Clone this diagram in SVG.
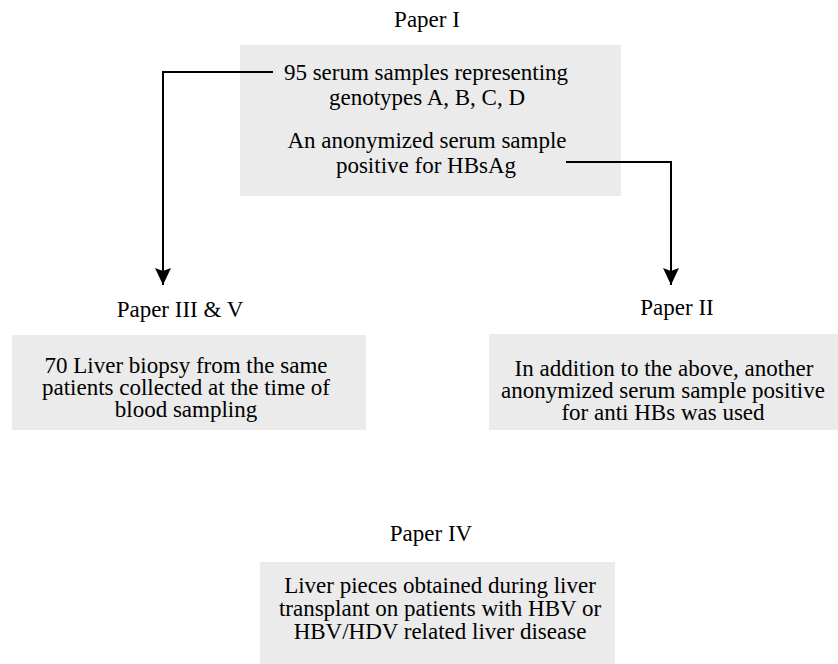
<svg xmlns="http://www.w3.org/2000/svg" width="838" height="664" viewBox="0 0 838 664">
<style>
  .box { fill: #ebebeb; stroke: none; }
  text { font-family: "Liberation Serif", "Times New Roman", serif; font-size: 23px; fill: #000; text-anchor: middle; }
  .conn { fill: none; stroke: #000; stroke-width: 2; }
</style>
<defs>
  <marker id="arrow" markerWidth="16" markerHeight="18" refX="8" refY="17" orient="0" markerUnits="userSpaceOnUse" viewBox="0 0 16 18">
    <path d="M0,0 L8,3 L16,0 L8,17 Z" fill="#000"/>
  </marker>
</defs>
<rect width="838" height="664" fill="#fff"/>
<g id="paper1">
  <text x="427" y="27">Paper I</text>
  <rect class="box" x="240" y="45" width="381" height="151"/>
  <text x="426" y="80">95 serum samples representing</text>
  <text x="427" y="105">genotypes A, B, C, D</text>
  <text x="427" y="148">An anonymized serum sample</text>
  <text x="426" y="173">positive for HBsAg</text>
</g>
<g id="paper3">
  <text x="180" y="317">Paper III &amp; V</text>
  <rect class="box" x="12" y="335" width="354" height="95"/>
  <text x="186" y="373">70 Liver biopsy from the same</text>
  <text x="186" y="395">patients collected at the time of</text>
  <text x="186" y="417">blood sampling</text>
</g>
<g id="paper2">
  <text x="677" y="315">Paper II</text>
  <rect class="box" x="489" y="334" width="349" height="96"/>
  <text x="664" y="376">In addition to the above, another</text>
  <text x="663" y="398">anonymized serum sample positive</text>
  <text x="663" y="420">for anti HBs was used</text>
</g>
<g id="paper4">
  <text x="431" y="541">Paper IV</text>
  <rect class="box" x="260" y="562" width="355" height="102"/>
  <text x="440" y="593">Liver pieces obtained during liver</text>
  <text x="440" y="616">transplant on patients with HBV or</text>
  <text x="440" y="639">HBV/HDV related liver disease</text>
</g>
<g id="connectors">
  <path class="conn" d="M273,72 H163 V285" marker-end="url(#arrow)"/>
  <path class="conn" d="M566,162 H671 V285" marker-end="url(#arrow)"/>
</g>
</svg>
